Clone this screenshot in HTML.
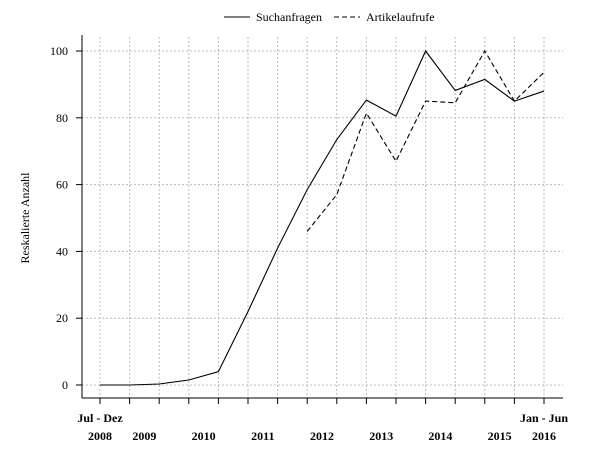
<!DOCTYPE html>
<html><head><meta charset="utf-8"><style>
html,body{margin:0;padding:0;background:#fff;}
svg text{font-family:"Liberation Serif",serif;font-size:12px;fill:#000;}
</style></head><body>
<svg width="600" height="450" xmlns="http://www.w3.org/2000/svg">
<g id="grid"></g>
<g id="axes"></g>
<g id="series"></g>
<g>
<line x1="224" y1="17" x2="250" y2="17" stroke="#000"/>
<text x="256" y="21">Suchanfragen</text>
<line x1="334" y1="17" x2="360" y2="17" stroke="#000" stroke-dasharray="5,3"/>
<text x="366" y="21">Artikelaufrufe</text>
</g>
<text transform="translate(29,218) rotate(-90)" text-anchor="middle" font-size="13">Reskalierte Anzahl</text>
</svg>
<script>
const suchanfragen=[0,0,0.3,1.5,4,22,41,58.5,73.5,85.3,80.5,100,88.2,91.5,85,88];
const artikelaufrufe=[null,null,null,null,null,null,null,46,57,81.4,67,85,84.5,100,85,93.6];
const yTicks=[0,20,40,60,80,100];
const yearLabels=["2008","2009","2010","2011","2012","2013","2014","2015","2016"];
const yearPos=[0,1.5,3.5,5.5,7.5,9.5,11.5,13.5,15];
const NS="http://www.w3.org/2000/svg";
const xS=i=>100+i*29.6;
const yS=v=>385-v*3.34;
function mk(tag,attrs,parent,txt){const e=document.createElementNS(NS,tag);for(const k in attrs)e.setAttribute(k,attrs[k]);if(txt!==undefined)e.textContent=txt;parent.appendChild(e);return e;}
const grid=document.getElementById('grid'),axes=document.getElementById('axes'),ser=document.getElementById('series');
for(let i=0;i<suchanfragen.length;i++){
 const g=mk('line',{x1:xS(i),x2:xS(i),y1:37,y2:398,stroke:'#bbb','stroke-dasharray':'2,2'},grid);
 
 
 const t=mk('line',{x1:xS(i),x2:xS(i),y1:398,y2:404,stroke:'#000'},axes);
 
 
}
yTicks.forEach(v=>{
 const g=mk('line',{x1:82,x2:563,y1:yS(v),y2:yS(v),stroke:'#bbb','stroke-dasharray':'2,2'},grid);
 
 
 const t=mk('line',{x1:76,x2:82,y1:yS(v),y2:yS(v),stroke:'#000'},axes);
 
 
 const l=mk('text',{x:68,y:yS(v)+4,'text-anchor':'end','font-size':'13'},axes,String(v));
 
 
});
const ya=mk('line',{x1:82,x2:82,y1:35,y2:398,stroke:'#000'},axes);


const xa=mk('line',{x1:82,x2:563,y1:398,y2:398,stroke:'#000'},axes);


yearLabels.forEach((y,k)=>{
 const l=mk('text',{x:xS(yearPos[k]),y:440,'text-anchor':'middle','font-weight':'bold'},axes,y);
 
 
});
const a=mk('text',{x:xS(0),y:422,'text-anchor':'middle','font-weight':'bold'},axes,'Jul - Dez');


const b=mk('text',{x:xS(15),y:422,'text-anchor':'middle','font-weight':'bold'},axes,'Jan - Jun');


function path(arr){let d='';arr.forEach((v,i)=>{if(v===null)return;d+=(d?'L':'M')+xS(i)+','+yS(v);});return d;}
const p1=mk('path',{d:path(suchanfragen),fill:'none',stroke:'#000','stroke-width':'1.1'},ser);


const p2=mk('path',{d:path(artikelaufrufe),fill:'none',stroke:'#000','stroke-width':'1.1','stroke-dasharray':'5,3'},ser);


</script>
</body></html>
